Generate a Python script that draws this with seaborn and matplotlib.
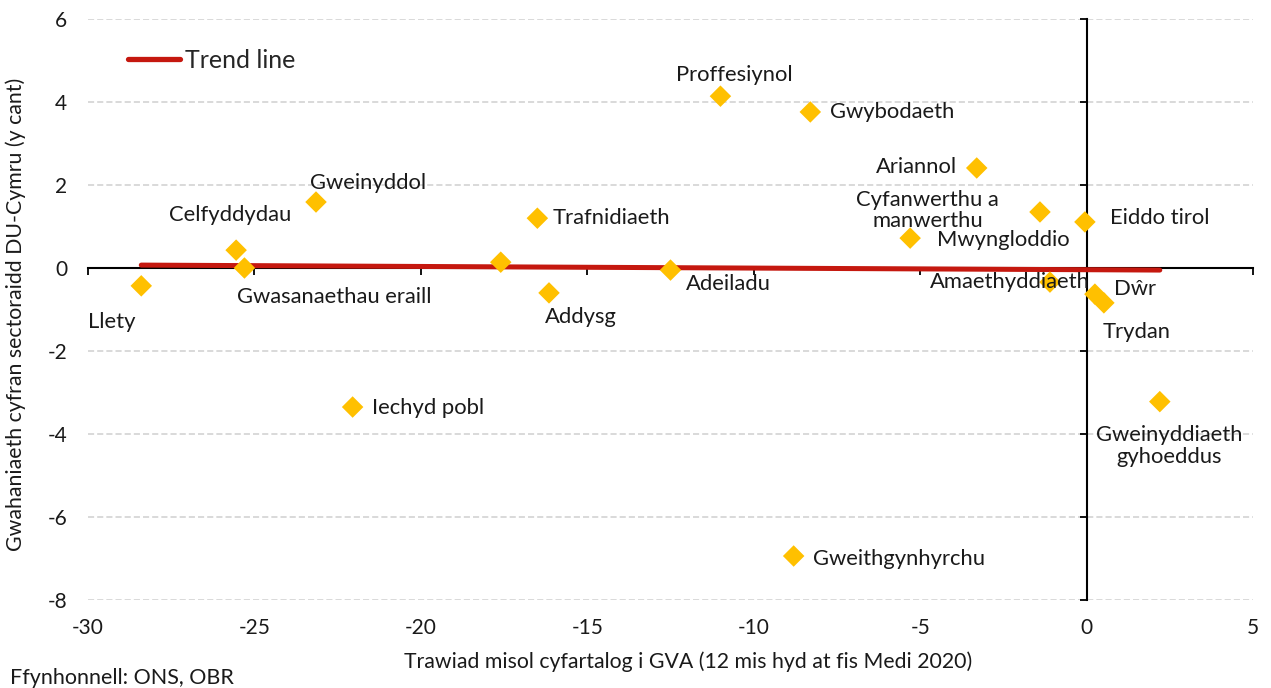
import matplotlib
matplotlib.use("Agg")
import matplotlib.pyplot as plt
from matplotlib.lines import Line2D
import seaborn as sns
import pandas as pd

# ---- data ----
sectors = ["Llety", "Celfyddydau", "Gwasanaethau eraill", "Gweinyddol", "Iechyd pobl", "",
           "Trafnidiaeth", "Addysg", "Adeiladu", "Proffesiynol", "Gwybodaeth", "Gweithgynhyrchu",
           "Ariannol", "Mwyngloddio", "Cyfanwerthu a\nmanwerthu", "Eiddo tirol", "Amaethyddiaeth",
           "Dŵr", "Trydan", "Gweinyddiaeth\ngyhoeddus"]
gva_fall = [-28.4, -25.55, -25.3, -23.15, -22.05, -17.6, -16.5, -16.15, -12.5, -11.0, -8.3, -8.8,
            -3.3, -5.3, -1.4, -0.05, -1.1, 0.25, 0.52, 2.2]
share_diff = [-0.43, 0.43, 0.0, 1.59, -3.35, 0.14, 1.2, -0.6, -0.05, 4.14, 3.76, -6.94,
              2.41, 0.72, 1.35, 1.11, -0.34, -0.63, -0.84, -3.22]
trend_x = [-28.4, 2.2]
trend_y = [0.07, -0.05]
x_ticks = [-30, -25, -20, -15, -10, -5, 0, 5]
y_ticks = [-8, -6, -4, -2, 0, 2, 4, 6]

# label offsets (points) and alignment
label_style = {
    "Llety": (-21, -26, "center"),
    "Celfyddydau": (-4, 25, "center"),
    "Gwasanaethau eraill": (-5, -21, "left"),
    "Gweinyddol": (-4, 14, "left"),
    "Iechyd pobl": (14, -1, "left"),
    "Trafnidiaeth": (11, 0, "left"),
    "Addysg": (-3, -17, "left"),
    "Adeiladu": (11, -10, "left"),
    "Proffesiynol": (10, 15, "center"),
    "Gwybodaeth": (14, 0, "left"),
    "Gweithgynhyrchu": (14, -2, "left"),
    "Ariannol": (-14, 1, "right"),
    "Mwyngloddio": (19, -1, "left"),
    "Cyfanwerthu a\nmanwerthu": (-81, 1, "center"),
    "Eiddo tirol": (18, 3, "left"),
    "Amaethyddiaeth": (-29, 0, "center"),
    "Dŵr": (14, 4, "left"),
    "Trydan": (-1, -21, "left"),
    "Gweinyddiaeth\ngyhoeddus": (7, -32, "center"),
}

sns.set_theme(style="white")
plt.rcParams["font.family"] = ["Lato", "DejaVu Sans"]

YELLOW = "#FFC000"
RED = "#C5180F"
TXT = "#1a1a1a"

fig = plt.figure(figsize=(12.71, 6.88), dpi=100)
pos = [88 / 1271, 1 - 600 / 688, (1253 - 88) / 1271, (600 - 19) / 688]

# background axes: grid + axis lines through zero
axb = fig.add_axes(pos)
axb.set_zorder(0)
axb.set_xlim(-30, 5)
axb.set_ylim(-8, 6)
axb.set_xticks(x_ticks)
axb.set_yticks(y_ticks)
for yv in y_ticks:
    if yv != 0:
        axb.axhline(yv, color="#d0d0d0", lw=1.1, ls=(0, (4, 2)), zorder=0)
for s in ["top", "right"]:
    axb.spines[s].set_visible(False)
axb.spines["left"].set_position(("data", 0))
axb.spines["bottom"].set_position(("data", 0))
axb.spines["left"].set_color("black")
axb.spines["bottom"].set_color("black")
axb.spines["left"].set_linewidth(1.5)
axb.spines["bottom"].set_linewidth(1.5)
axb.tick_params(axis="both", direction="out", length=5, width=1.3, color="black",
                labelleft=False, labelbottom=False, left=True, bottom=True)

# main axes
ax = fig.add_axes(pos, sharex=axb, sharey=axb)
ax.set_zorder(1)
ax.patch.set_visible(False)
for s in ax.spines.values():
    s.set_visible(False)

df = pd.DataFrame({"sector": sectors, "gva": gva_fall, "share": share_diff})
sns.lineplot(x=trend_x, y=trend_y, ax=ax, color=RED, lw=3.6, solid_capstyle="round", zorder=2)
sns.scatterplot(data=df, x="gva", y="share", ax=ax, marker="D", s=120, color=YELLOW,
                edgecolor="none", linewidth=0, zorder=3)

for name, xv, yv in zip(sectors, gva_fall, share_diff):
    if not name:
        continue
    dx, dy, ha = label_style[name]
    ax.annotate(name, (xv, yv), xytext=(dx, dy), textcoords="offset points",
                ha=ha, va="center", multialignment="center", fontsize=15.8, color=TXT,
                zorder=4, linespacing=1.1)

ax.set_xlim(-30, 5)
ax.set_ylim(-8, 6)
ax.set_xticks(x_ticks)
ax.set_yticks(y_ticks)
ax.set_xticklabels([str(v) for v in x_ticks])
ax.set_yticklabels([str(v) for v in y_ticks])
ax.tick_params(axis="both", length=0, labelsize=15, colors=TXT)
ax.tick_params(axis="y", pad=15)
ax.tick_params(axis="x", pad=13)

ax.set_xlabel("Trawiad misol cyfartalog i GVA (12 mis hyd at fis Medi 2020)", fontsize=15.3, color=TXT)
ax.set_ylabel("Gwahaniaeth cyfran sectoraidd DU-Cymru (y cant)", fontsize=15.3, color=TXT)
ax.xaxis.set_label_coords(0.515, -0.088)
ax.yaxis.set_label_coords(-0.053, 0.492)

handle = Line2D([], [], color=RED, lw=3.8, solid_capstyle="round")
ax.legend([handle], ["Trend line"], loc="center left", bbox_to_anchor=(0.034, 0.929),
          frameon=False, fontsize=18, borderpad=0, borderaxespad=0,
          handlelength=2.1, handletextpad=0.2)

fig.text(10 / 1271, 1 - 678 / 688, "Ffynhonnell: ONS, OBR", fontsize=15.5, color=TXT,
         ha="left", va="center")

fig.savefig("out.png", dpi=100)
